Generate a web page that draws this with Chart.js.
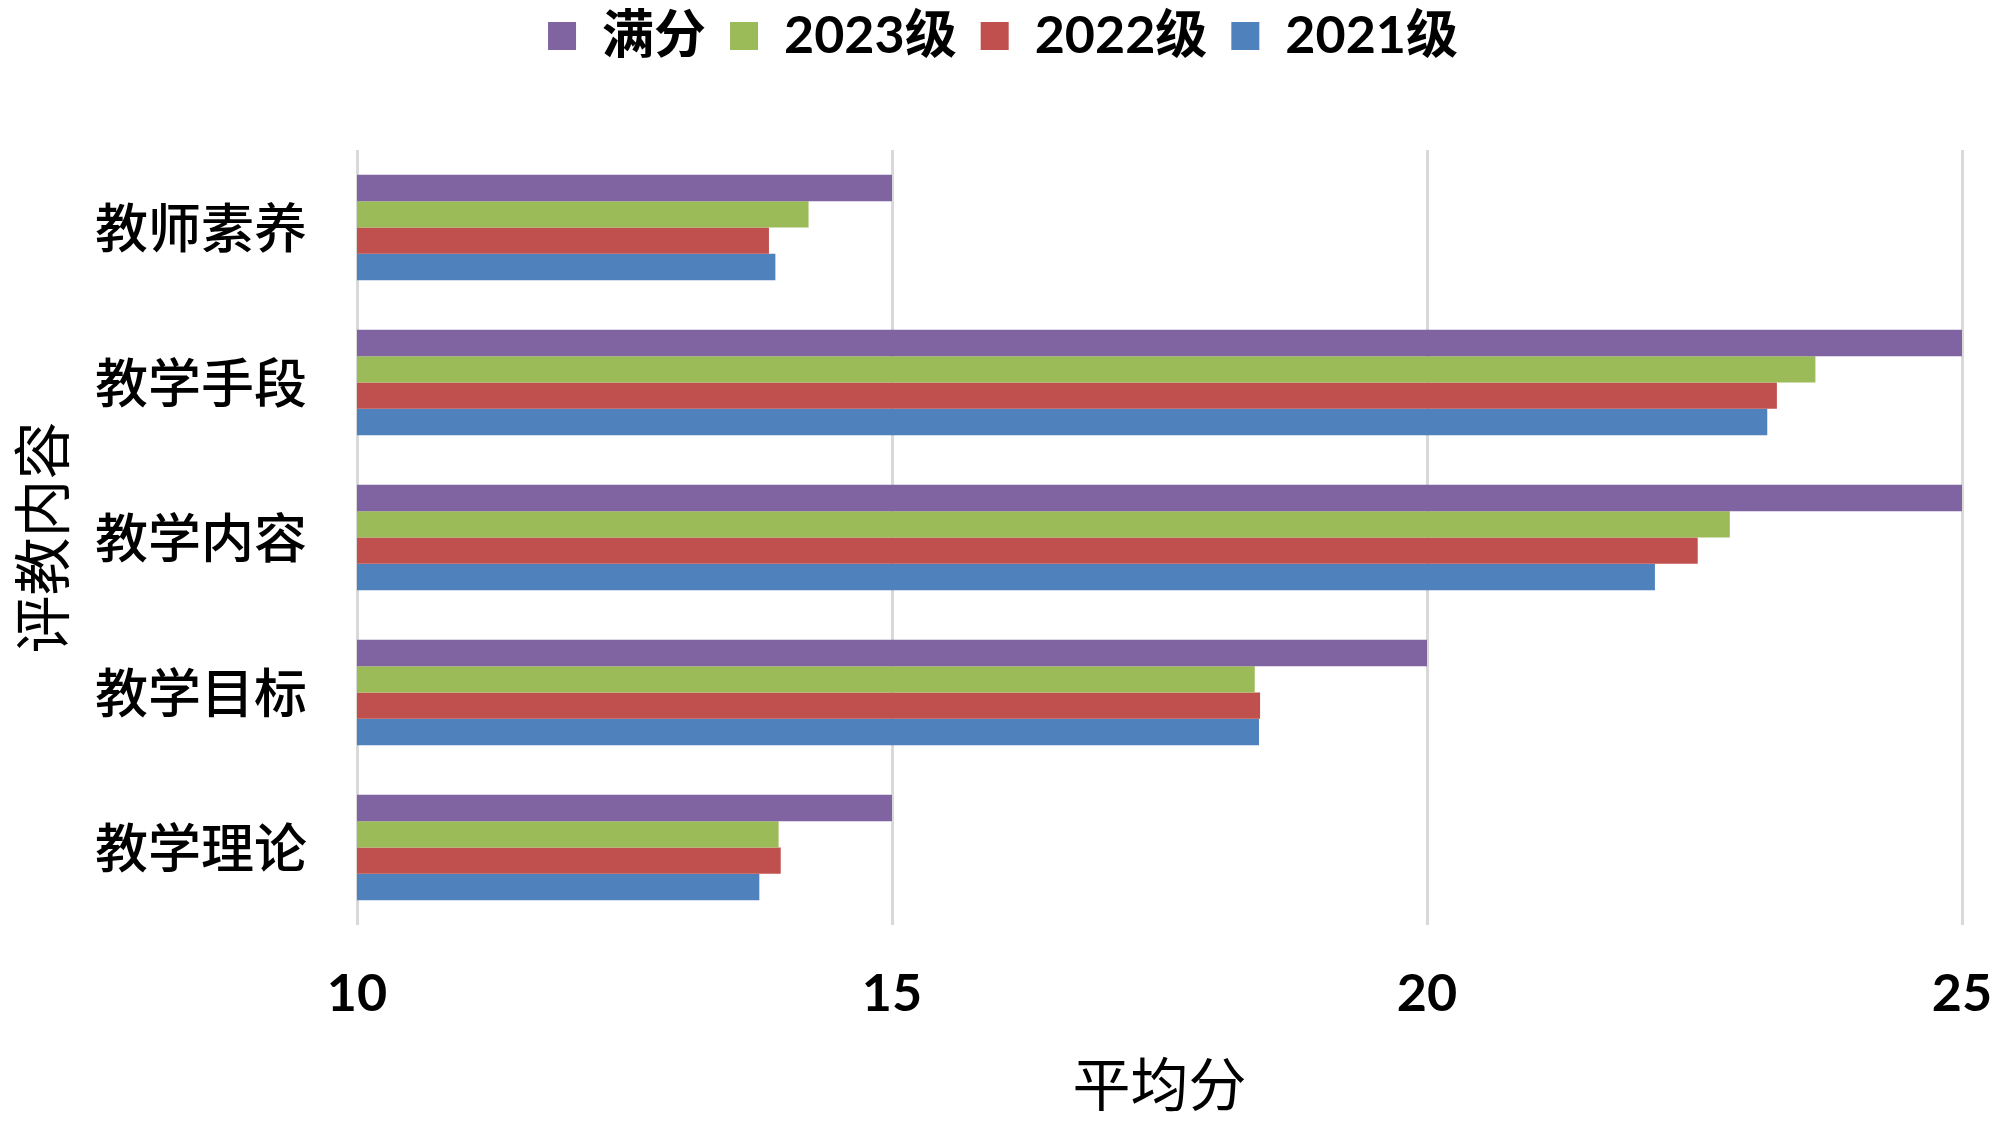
<!DOCTYPE html>
<html>
<head>
<meta charset="utf-8">
<script src="https://cdn.jsdelivr.net/npm/chart.js@4/dist/chart.umd.min.js"></script>
<style>
html,body{margin:0;padding:0;background:#fff;}
#wrap{width:1999px;height:1134px;position:relative;}
</style>
</head>
<body>
<div id="wrap"><canvas id="c" width="1999" height="1134"></canvas></div>
<script>
const categories = ['教师素养', '教学手段', '教学内容', '教学目标', '教学理论'];
const seriesNames = ['满分', '2023级', '2022级', '2021级'];
const fullScore = [15, 25, 25, 20, 15];
const grade2023 = [14.22, 23.63, 22.83, 18.39, 13.94];
const grade2022 = [13.85, 23.27, 22.53, 18.44, 13.96];
const grade2021 = [13.91, 23.18, 22.13, 18.43, 13.76];
const xTicks = [10, 15, 20, 25];
const xTitle = '平均分';
const yTitle = '评教内容';

const colors = ['#8064A2', '#9BBB59', '#C0504D', '#4F81BD'];
const values = [fullScore, grade2023, grade2022, grade2021];

const cjk = "'Noto Sans CJK SC'";
const latin = "Lato, 'Noto Sans CJK SC', sans-serif";

const legendPad = 24;
const topShift = legendPad - 10;

const legendMargin = {
  id: 'legendMargin',
  beforeInit(chart) {
    const orig = chart.legend.fit;
    chart.legend.fit = function () {
      orig.bind(chart.legend)();
      this.height = 150 + topShift;
    };
  },
  afterLayout(chart) {
    chart.legend.left += 44;
  }
};

new Chart(document.getElementById('c'), {
  type: 'bar',
  data: {
    labels: categories,
    datasets: seriesNames.map((n, i) => ({
      label: n,
      data: values[i],
      backgroundColor: colors[i],
      borderWidth: 0,
      categoryPercentage: 0.68,
      barPercentage: 1.0
    }))
  },
  options: {
    indexAxis: 'y',
    responsive: false,
    animation: false,
    layout: { padding: { top: -topShift, right: 37, bottom: 0, left: 0 } },
    plugins: {
      legend: {
        position: 'top',
        labels: {
          boxWidth: 28,
          boxHeight: 28,
          padding: legendPad,
          color: '#000',
          font: { family: latin, size: 52, weight: 'bold' }
        }
      },
      tooltip: { enabled: false }
    },
    scales: {
      x: {
        type: 'linear',
        min: xTicks[0],
        max: xTicks[xTicks.length - 1],
        afterBuildTicks(scale) { scale.ticks = xTicks.map(v => ({ value: v })); },
        afterFit(scale) { scale.height = 209; scale.paddingRight = 0; scale.paddingLeft = 0; },
        grid: { color: '#d9d9d9', lineWidth: 3, drawTicks: false },
        border: { display: false },
        ticks: {
          padding: 38,
          color: '#000',
          font: { family: latin, size: 52, weight: 'bold' }
        },
        title: {
          display: true,
          text: xTitle,
          color: '#000',
          padding: { top: 9, bottom: 15 },
          font: { family: cjk, size: 58, weight: 'normal' }
        }
      },
      y: {
        type: 'category',
        afterFit(scale) { scale.width = 357; },
        grid: { display: false, drawTicks: false },
        border: { display: false },
        ticks: {
          padding: 50,
          color: '#000',
          font: { family: cjk, size: 53, weight: '500' }
        },
        title: {
          display: true,
          text: yTitle,
          color: '#000',
          padding: { top: 7, bottom: 0 },
          font: { family: cjk, size: 58, weight: 'normal' }
        }
      }
    }
  },
  plugins: [legendMargin]
});
</script>
</body>
</html>
